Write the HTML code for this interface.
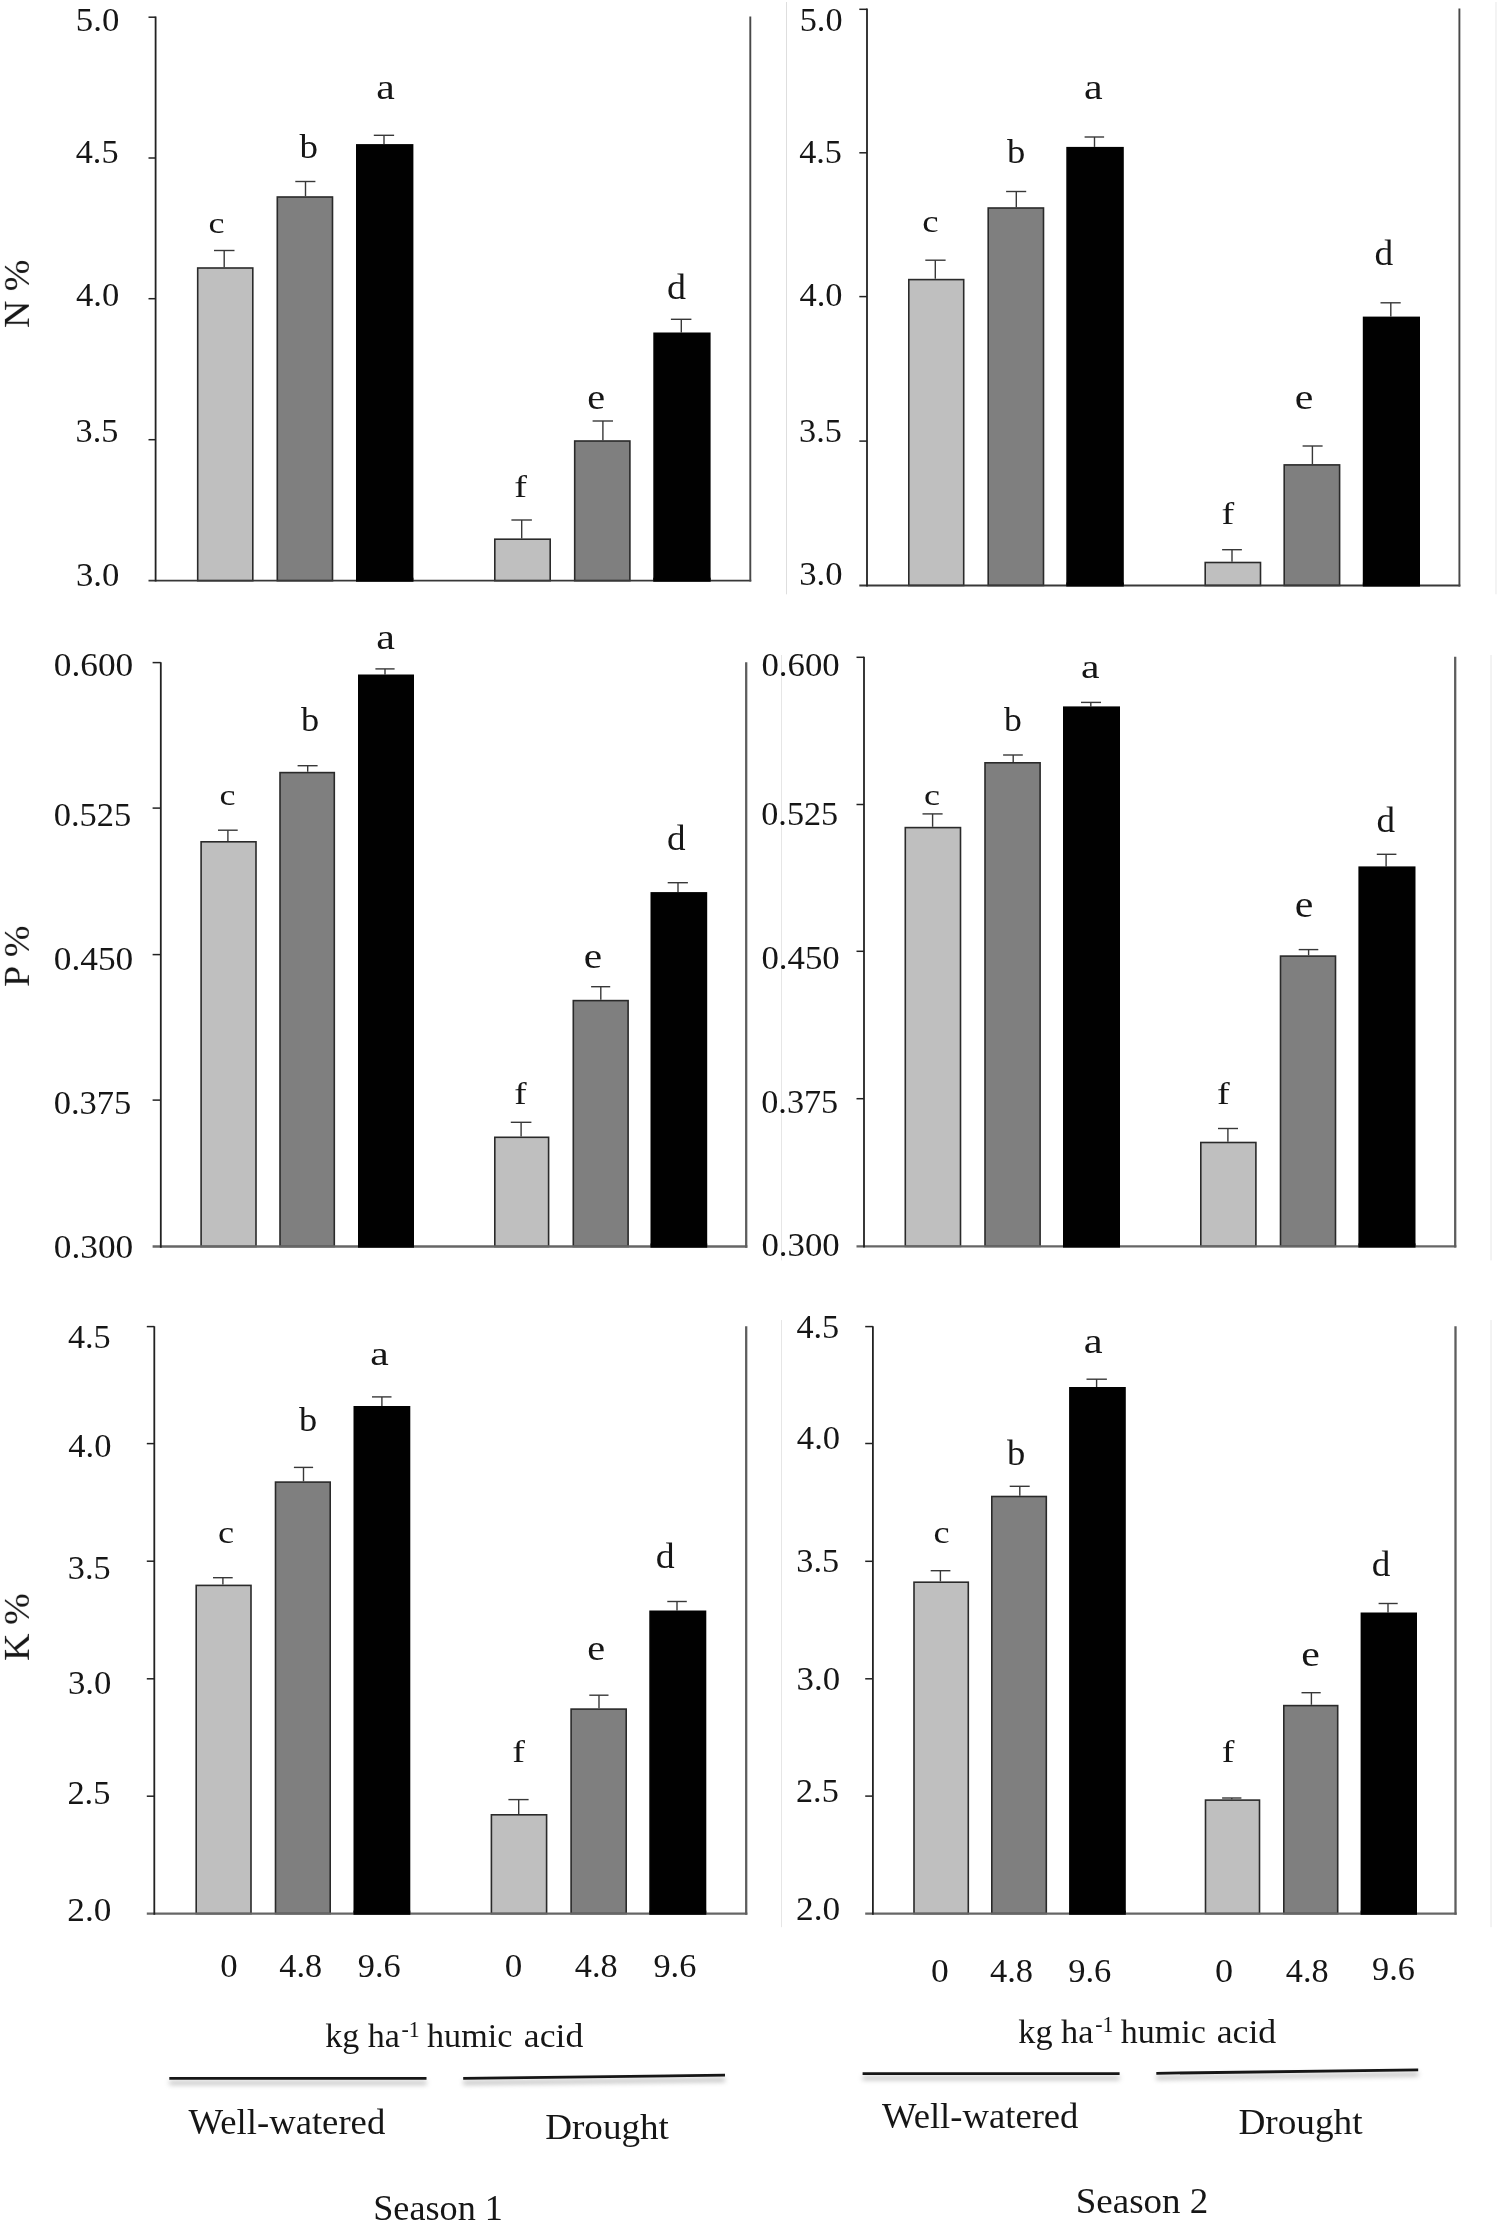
<!DOCTYPE html>
<html lang="en"><head><meta charset="utf-8"><title>Figure</title>
<style>html,body{margin:0;padding:0;background:#fff;overflow:hidden}svg{display:block}</style></head>
<body>
<svg width="1499" height="2224" viewBox="0 0 1499 2224" font-family='"Liberation Serif", "DejaVu Serif", serif' fill="#161616">
<defs><filter id="sh" filterUnits="userSpaceOnUse" x="0" y="2040" width="1499" height="80"><feGaussianBlur stdDeviation="2.6"/></filter></defs>
<rect width="1499" height="2224" fill="#fff"/>
<g opacity="0.999">
<line x1="786.50" y1="2.00" x2="786.50" y2="594.30" stroke="#dedede" stroke-width="1" />
<line x1="1496.00" y1="2.00" x2="1496.00" y2="594.30" stroke="#ececec" stroke-width="1.2" />
<line x1="781.50" y1="655.00" x2="781.50" y2="1260.40" stroke="#e6e6e6" stroke-width="1" />
<line x1="1491.00" y1="655.00" x2="1491.00" y2="1260.40" stroke="#e6e6e6" stroke-width="1" />
<line x1="781.50" y1="1320.00" x2="781.50" y2="1927.20" stroke="#e6e6e6" stroke-width="1" />
<line x1="1491.00" y1="1320.00" x2="1491.00" y2="1927.20" stroke="#e6e6e6" stroke-width="1" />
<line x1="224.20" y1="250.50" x2="224.20" y2="267.20" stroke="#383838" stroke-width="1.4" />
<line x1="214.00" y1="250.50" x2="234.50" y2="250.50" stroke="#383838" stroke-width="1.4" />
<rect x="197.70" y="268.00" width="55.10" height="312.70" fill="#bfbfbf" stroke="#2a2a2a" stroke-width="1.6"/>
<line x1="305.50" y1="181.50" x2="305.50" y2="196.20" stroke="#383838" stroke-width="1.4" />
<line x1="295.30" y1="181.50" x2="315.40" y2="181.50" stroke="#383838" stroke-width="1.4" />
<rect x="277.30" y="197.00" width="55.20" height="383.70" fill="#7f7f7f" stroke="#2a2a2a" stroke-width="1.6"/>
<line x1="384.00" y1="135.30" x2="384.00" y2="144.10" stroke="#383838" stroke-width="1.4" />
<line x1="373.80" y1="135.30" x2="394.10" y2="135.30" stroke="#383838" stroke-width="1.4" />
<rect x="356.80" y="144.90" width="55.80" height="435.80" fill="#000000" stroke="#000000" stroke-width="1.6"/>
<line x1="521.70" y1="520.00" x2="521.70" y2="538.40" stroke="#383838" stroke-width="1.4" />
<line x1="511.40" y1="520.00" x2="531.90" y2="520.00" stroke="#383838" stroke-width="1.4" />
<rect x="494.80" y="539.20" width="55.40" height="41.50" fill="#bfbfbf" stroke="#2a2a2a" stroke-width="1.6"/>
<line x1="602.90" y1="421.00" x2="602.90" y2="440.20" stroke="#383838" stroke-width="1.4" />
<line x1="592.60" y1="421.00" x2="613.00" y2="421.00" stroke="#383838" stroke-width="1.4" />
<rect x="574.70" y="441.00" width="55.20" height="139.70" fill="#7f7f7f" stroke="#2a2a2a" stroke-width="1.6"/>
<line x1="681.30" y1="319.30" x2="681.30" y2="332.50" stroke="#383838" stroke-width="1.4" />
<line x1="670.90" y1="319.30" x2="691.40" y2="319.30" stroke="#383838" stroke-width="1.4" />
<rect x="654.10" y="333.30" width="55.70" height="247.40" fill="#000000" stroke="#000000" stroke-width="1.6"/>
<line x1="148.50" y1="580.70" x2="751.25" y2="580.70" stroke="#383838" stroke-width="1.8" />
<line x1="750.30" y1="16.50" x2="750.30" y2="581.60" stroke="#484848" stroke-width="1.9" />
<line x1="155.60" y1="16.50" x2="155.60" y2="581.60" stroke="#222222" stroke-width="1.8" />
<line x1="148.50" y1="17.20" x2="155.60" y2="17.20" stroke="#222222" stroke-width="1.5" />
<line x1="148.50" y1="158.00" x2="155.60" y2="158.00" stroke="#222222" stroke-width="1.5" />
<line x1="148.50" y1="298.70" x2="155.60" y2="298.70" stroke="#222222" stroke-width="1.5" />
<line x1="148.50" y1="439.70" x2="155.60" y2="439.70" stroke="#222222" stroke-width="1.5" />
<rect x="356.00" y="577.70" width="57.40" height="3.90" fill="#000"/>
<rect x="653.30" y="577.70" width="57.30" height="3.90" fill="#000"/>
<line x1="935.30" y1="260.20" x2="935.30" y2="278.80" stroke="#383838" stroke-width="1.4" />
<line x1="925.30" y1="260.20" x2="945.60" y2="260.20" stroke="#383838" stroke-width="1.4" />
<rect x="908.80" y="279.60" width="54.90" height="305.90" fill="#bfbfbf" stroke="#2a2a2a" stroke-width="1.6"/>
<line x1="1016.30" y1="191.50" x2="1016.30" y2="207.20" stroke="#383838" stroke-width="1.4" />
<line x1="1006.10" y1="191.50" x2="1026.20" y2="191.50" stroke="#383838" stroke-width="1.4" />
<rect x="988.20" y="208.00" width="55.30" height="377.50" fill="#7f7f7f" stroke="#2a2a2a" stroke-width="1.6"/>
<line x1="1094.50" y1="137.00" x2="1094.50" y2="146.90" stroke="#383838" stroke-width="1.4" />
<line x1="1084.60" y1="137.00" x2="1104.10" y2="137.00" stroke="#383838" stroke-width="1.4" />
<rect x="1067.10" y="147.70" width="55.90" height="437.80" fill="#000000" stroke="#000000" stroke-width="1.6"/>
<line x1="1232.00" y1="549.70" x2="1232.00" y2="561.70" stroke="#383838" stroke-width="1.4" />
<line x1="1222.10" y1="549.70" x2="1241.90" y2="549.70" stroke="#383838" stroke-width="1.4" />
<rect x="1205.20" y="562.50" width="55.30" height="23.00" fill="#bfbfbf" stroke="#2a2a2a" stroke-width="1.6"/>
<line x1="1312.40" y1="446.00" x2="1312.40" y2="464.10" stroke="#383838" stroke-width="1.4" />
<line x1="1302.60" y1="446.00" x2="1322.60" y2="446.00" stroke="#383838" stroke-width="1.4" />
<rect x="1284.20" y="464.90" width="55.40" height="120.60" fill="#7f7f7f" stroke="#2a2a2a" stroke-width="1.6"/>
<line x1="1390.80" y1="302.80" x2="1390.80" y2="316.60" stroke="#383838" stroke-width="1.4" />
<line x1="1380.50" y1="302.80" x2="1400.70" y2="302.80" stroke="#383838" stroke-width="1.4" />
<rect x="1363.60" y="317.40" width="55.60" height="268.10" fill="#000000" stroke="#000000" stroke-width="1.6"/>
<line x1="859.30" y1="585.50" x2="1460.35" y2="585.50" stroke="#383838" stroke-width="1.8" />
<line x1="1459.40" y1="8.60" x2="1459.40" y2="586.40" stroke="#484848" stroke-width="1.9" />
<line x1="867.00" y1="8.60" x2="867.00" y2="586.40" stroke="#222222" stroke-width="1.8" />
<line x1="859.30" y1="9.30" x2="867.00" y2="9.30" stroke="#222222" stroke-width="1.5" />
<line x1="859.30" y1="152.80" x2="867.00" y2="152.80" stroke="#222222" stroke-width="1.5" />
<line x1="859.30" y1="296.60" x2="867.00" y2="296.60" stroke="#222222" stroke-width="1.5" />
<line x1="859.30" y1="441.10" x2="867.00" y2="441.10" stroke="#222222" stroke-width="1.5" />
<rect x="1066.30" y="582.50" width="57.50" height="3.90" fill="#000"/>
<rect x="1362.80" y="582.50" width="57.20" height="3.90" fill="#000"/>
<line x1="227.90" y1="830.20" x2="227.90" y2="841.00" stroke="#383838" stroke-width="1.4" />
<line x1="218.00" y1="830.20" x2="237.70" y2="830.20" stroke="#383838" stroke-width="1.4" />
<rect x="201.10" y="841.80" width="54.90" height="404.70" fill="#bfbfbf" stroke="#2a2a2a" stroke-width="1.6"/>
<line x1="307.70" y1="765.70" x2="307.70" y2="771.80" stroke="#383838" stroke-width="1.4" />
<line x1="297.60" y1="765.70" x2="317.60" y2="765.70" stroke="#383838" stroke-width="1.4" />
<rect x="280.00" y="772.60" width="54.30" height="473.90" fill="#7f7f7f" stroke="#2a2a2a" stroke-width="1.6"/>
<line x1="385.00" y1="668.90" x2="385.00" y2="674.50" stroke="#383838" stroke-width="1.4" />
<line x1="375.40" y1="668.90" x2="394.60" y2="668.90" stroke="#383838" stroke-width="1.4" />
<rect x="358.80" y="675.30" width="54.40" height="571.20" fill="#000000" stroke="#000000" stroke-width="1.6"/>
<line x1="521.10" y1="1122.30" x2="521.10" y2="1136.50" stroke="#383838" stroke-width="1.4" />
<line x1="510.80" y1="1122.30" x2="531.40" y2="1122.30" stroke="#383838" stroke-width="1.4" />
<rect x="494.80" y="1137.30" width="53.80" height="109.20" fill="#bfbfbf" stroke="#2a2a2a" stroke-width="1.6"/>
<line x1="600.80" y1="986.70" x2="600.80" y2="999.80" stroke="#383838" stroke-width="1.4" />
<line x1="591.10" y1="986.70" x2="610.20" y2="986.70" stroke="#383838" stroke-width="1.4" />
<rect x="573.30" y="1000.60" width="54.80" height="245.90" fill="#7f7f7f" stroke="#2a2a2a" stroke-width="1.6"/>
<line x1="678.00" y1="882.70" x2="678.00" y2="892.10" stroke="#383838" stroke-width="1.4" />
<line x1="667.70" y1="882.70" x2="687.90" y2="882.70" stroke="#383838" stroke-width="1.4" />
<rect x="651.30" y="892.90" width="55.10" height="353.60" fill="#000000" stroke="#000000" stroke-width="1.6"/>
<line x1="152.60" y1="1246.50" x2="747.35" y2="1246.50" stroke="#666666" stroke-width="2.3" />
<line x1="746.20" y1="662.30" x2="746.20" y2="1247.65" stroke="#5e5e5e" stroke-width="2.3" />
<line x1="160.80" y1="662.30" x2="160.80" y2="1247.65" stroke="#222222" stroke-width="1.8" />
<line x1="152.60" y1="662.60" x2="160.80" y2="662.60" stroke="#222222" stroke-width="1.5" />
<line x1="152.60" y1="808.10" x2="160.80" y2="808.10" stroke="#222222" stroke-width="1.5" />
<line x1="152.60" y1="954.60" x2="160.80" y2="954.60" stroke="#222222" stroke-width="1.5" />
<line x1="152.60" y1="1100.10" x2="160.80" y2="1100.10" stroke="#222222" stroke-width="1.5" />
<rect x="358.00" y="1243.50" width="56.00" height="4.15" fill="#000"/>
<rect x="650.50" y="1243.50" width="56.70" height="4.15" fill="#000"/>
<line x1="932.60" y1="813.90" x2="932.60" y2="826.80" stroke="#383838" stroke-width="1.4" />
<line x1="922.50" y1="813.90" x2="942.60" y2="813.90" stroke="#383838" stroke-width="1.4" />
<rect x="905.30" y="827.60" width="55.20" height="418.80" fill="#bfbfbf" stroke="#2a2a2a" stroke-width="1.6"/>
<line x1="1013.20" y1="755.00" x2="1013.20" y2="762.00" stroke="#383838" stroke-width="1.4" />
<line x1="1003.10" y1="755.00" x2="1022.80" y2="755.00" stroke="#383838" stroke-width="1.4" />
<rect x="985.00" y="762.80" width="55.10" height="483.60" fill="#7f7f7f" stroke="#2a2a2a" stroke-width="1.6"/>
<line x1="1090.80" y1="702.40" x2="1090.80" y2="706.40" stroke="#383838" stroke-width="1.4" />
<line x1="1081.00" y1="702.40" x2="1101.00" y2="702.40" stroke="#383838" stroke-width="1.4" />
<rect x="1063.80" y="707.20" width="55.40" height="539.20" fill="#000000" stroke="#000000" stroke-width="1.6"/>
<line x1="1227.90" y1="1128.50" x2="1227.90" y2="1141.70" stroke="#383838" stroke-width="1.4" />
<line x1="1218.00" y1="1128.50" x2="1238.00" y2="1128.50" stroke="#383838" stroke-width="1.4" />
<rect x="1200.80" y="1142.50" width="55.10" height="103.90" fill="#bfbfbf" stroke="#2a2a2a" stroke-width="1.6"/>
<line x1="1308.60" y1="949.60" x2="1308.60" y2="955.30" stroke="#383838" stroke-width="1.4" />
<line x1="1298.70" y1="949.60" x2="1318.30" y2="949.60" stroke="#383838" stroke-width="1.4" />
<rect x="1280.50" y="956.10" width="55.00" height="290.30" fill="#7f7f7f" stroke="#2a2a2a" stroke-width="1.6"/>
<line x1="1386.10" y1="854.30" x2="1386.10" y2="866.40" stroke="#383838" stroke-width="1.4" />
<line x1="1376.80" y1="854.30" x2="1396.40" y2="854.30" stroke="#383838" stroke-width="1.4" />
<rect x="1359.20" y="867.20" width="55.50" height="379.20" fill="#000000" stroke="#000000" stroke-width="1.6"/>
<line x1="856.50" y1="1246.40" x2="1456.35" y2="1246.40" stroke="#666666" stroke-width="2.3" />
<line x1="1455.20" y1="656.80" x2="1455.20" y2="1247.55" stroke="#5e5e5e" stroke-width="2.3" />
<line x1="864.00" y1="656.80" x2="864.00" y2="1247.55" stroke="#222222" stroke-width="1.8" />
<line x1="856.50" y1="657.30" x2="864.00" y2="657.30" stroke="#222222" stroke-width="1.5" />
<line x1="856.50" y1="804.50" x2="864.00" y2="804.50" stroke="#222222" stroke-width="1.5" />
<line x1="856.50" y1="951.30" x2="864.00" y2="951.30" stroke="#222222" stroke-width="1.5" />
<line x1="856.50" y1="1098.70" x2="864.00" y2="1098.70" stroke="#222222" stroke-width="1.5" />
<rect x="1063.00" y="1243.40" width="57.00" height="4.15" fill="#000"/>
<rect x="1358.40" y="1243.40" width="57.10" height="4.15" fill="#000"/>
<line x1="222.90" y1="1577.70" x2="222.90" y2="1584.60" stroke="#383838" stroke-width="1.4" />
<line x1="213.00" y1="1577.70" x2="232.70" y2="1577.70" stroke="#383838" stroke-width="1.4" />
<rect x="196.20" y="1585.40" width="54.80" height="328.20" fill="#bfbfbf" stroke="#2a2a2a" stroke-width="1.6"/>
<line x1="303.50" y1="1467.40" x2="303.50" y2="1481.30" stroke="#383838" stroke-width="1.4" />
<line x1="293.90" y1="1467.40" x2="313.10" y2="1467.40" stroke="#383838" stroke-width="1.4" />
<rect x="275.50" y="1482.10" width="54.70" height="431.50" fill="#7f7f7f" stroke="#2a2a2a" stroke-width="1.6"/>
<line x1="381.90" y1="1396.90" x2="381.90" y2="1406.00" stroke="#383838" stroke-width="1.4" />
<line x1="372.00" y1="1396.90" x2="391.50" y2="1396.90" stroke="#383838" stroke-width="1.4" />
<rect x="354.30" y="1406.80" width="55.20" height="506.80" fill="#000000" stroke="#000000" stroke-width="1.6"/>
<line x1="518.70" y1="1799.60" x2="518.70" y2="1814.00" stroke="#383838" stroke-width="1.4" />
<line x1="508.40" y1="1799.60" x2="528.60" y2="1799.60" stroke="#383838" stroke-width="1.4" />
<rect x="491.40" y="1814.80" width="55.20" height="98.80" fill="#bfbfbf" stroke="#2a2a2a" stroke-width="1.6"/>
<line x1="599.00" y1="1695.20" x2="599.00" y2="1708.30" stroke="#383838" stroke-width="1.4" />
<line x1="589.30" y1="1695.20" x2="608.50" y2="1695.20" stroke="#383838" stroke-width="1.4" />
<rect x="571.10" y="1709.10" width="55.10" height="204.50" fill="#7f7f7f" stroke="#2a2a2a" stroke-width="1.6"/>
<line x1="677.00" y1="1601.50" x2="677.00" y2="1610.50" stroke="#383838" stroke-width="1.4" />
<line x1="667.30" y1="1601.50" x2="686.80" y2="1601.50" stroke="#383838" stroke-width="1.4" />
<rect x="650.10" y="1611.30" width="55.40" height="302.30" fill="#000000" stroke="#000000" stroke-width="1.6"/>
<line x1="146.80" y1="1913.60" x2="747.35" y2="1913.60" stroke="#666666" stroke-width="2.3" />
<line x1="746.20" y1="1326.30" x2="746.20" y2="1914.75" stroke="#5e5e5e" stroke-width="2.3" />
<line x1="154.30" y1="1326.30" x2="154.30" y2="1914.75" stroke="#222222" stroke-width="1.8" />
<line x1="146.80" y1="1326.60" x2="154.30" y2="1326.60" stroke="#222222" stroke-width="1.5" />
<line x1="146.80" y1="1443.60" x2="154.30" y2="1443.60" stroke="#222222" stroke-width="1.5" />
<line x1="146.80" y1="1561.20" x2="154.30" y2="1561.20" stroke="#222222" stroke-width="1.5" />
<line x1="146.80" y1="1678.80" x2="154.30" y2="1678.80" stroke="#222222" stroke-width="1.5" />
<line x1="146.80" y1="1796.20" x2="154.30" y2="1796.20" stroke="#222222" stroke-width="1.5" />
<rect x="353.50" y="1910.60" width="56.80" height="4.15" fill="#000"/>
<rect x="649.30" y="1910.60" width="57.00" height="4.15" fill="#000"/>
<line x1="940.40" y1="1570.70" x2="940.40" y2="1581.40" stroke="#383838" stroke-width="1.4" />
<line x1="930.70" y1="1570.70" x2="950.40" y2="1570.70" stroke="#383838" stroke-width="1.4" />
<rect x="914.00" y="1582.20" width="54.30" height="331.40" fill="#bfbfbf" stroke="#2a2a2a" stroke-width="1.6"/>
<line x1="1019.80" y1="1486.30" x2="1019.80" y2="1495.70" stroke="#383838" stroke-width="1.4" />
<line x1="1009.70" y1="1486.30" x2="1029.70" y2="1486.30" stroke="#383838" stroke-width="1.4" />
<rect x="991.80" y="1496.50" width="54.50" height="417.10" fill="#7f7f7f" stroke="#2a2a2a" stroke-width="1.6"/>
<line x1="1096.60" y1="1379.20" x2="1096.60" y2="1387.00" stroke="#383838" stroke-width="1.4" />
<line x1="1086.50" y1="1379.20" x2="1106.90" y2="1379.20" stroke="#383838" stroke-width="1.4" />
<rect x="1069.90" y="1387.80" width="55.10" height="525.80" fill="#000000" stroke="#000000" stroke-width="1.6"/>
<line x1="1231.80" y1="1798.00" x2="1231.80" y2="1799.30" stroke="#383838" stroke-width="1.4" />
<line x1="1222.10" y1="1798.00" x2="1241.40" y2="1798.00" stroke="#383838" stroke-width="1.4" />
<rect x="1205.50" y="1800.10" width="54.00" height="113.50" fill="#bfbfbf" stroke="#2a2a2a" stroke-width="1.6"/>
<line x1="1311.40" y1="1692.70" x2="1311.40" y2="1704.80" stroke="#383838" stroke-width="1.4" />
<line x1="1301.50" y1="1692.70" x2="1320.70" y2="1692.70" stroke="#383838" stroke-width="1.4" />
<rect x="1283.80" y="1705.60" width="53.90" height="208.00" fill="#7f7f7f" stroke="#2a2a2a" stroke-width="1.6"/>
<line x1="1388.00" y1="1603.50" x2="1388.00" y2="1612.50" stroke="#383838" stroke-width="1.4" />
<line x1="1378.60" y1="1603.50" x2="1397.70" y2="1603.50" stroke="#383838" stroke-width="1.4" />
<rect x="1361.40" y="1613.30" width="54.80" height="300.30" fill="#000000" stroke="#000000" stroke-width="1.6"/>
<line x1="865.20" y1="1913.60" x2="1456.65" y2="1913.60" stroke="#666666" stroke-width="2.3" />
<line x1="1455.50" y1="1326.30" x2="1455.50" y2="1914.75" stroke="#5e5e5e" stroke-width="2.3" />
<line x1="872.90" y1="1326.30" x2="872.90" y2="1914.75" stroke="#222222" stroke-width="1.8" />
<line x1="865.20" y1="1326.60" x2="872.90" y2="1326.60" stroke="#222222" stroke-width="1.5" />
<line x1="865.20" y1="1443.50" x2="872.90" y2="1443.50" stroke="#222222" stroke-width="1.5" />
<line x1="865.20" y1="1561.30" x2="872.90" y2="1561.30" stroke="#222222" stroke-width="1.5" />
<line x1="865.20" y1="1678.80" x2="872.90" y2="1678.80" stroke="#222222" stroke-width="1.5" />
<line x1="865.20" y1="1796.10" x2="872.90" y2="1796.10" stroke="#222222" stroke-width="1.5" />
<rect x="1069.10" y="1910.60" width="56.70" height="4.15" fill="#000"/>
<rect x="1360.60" y="1910.60" width="56.40" height="4.15" fill="#000"/>
<text transform="translate(75.85,30.60) scale(1.0177,1)" font-size="34.20">5.0</text>
<text transform="translate(75.77,163.00) scale(1.0000,1)" font-size="34.20">4.5</text>
<text transform="translate(76.06,306.10) scale(1.0127,1)" font-size="34.20">4.0</text>
<text transform="translate(75.55,442.30) scale(1.0000,1)" font-size="34.20">3.5</text>
<text transform="translate(75.90,585.50) scale(1.0165,1)" font-size="34.20">3.0</text>
<text transform="translate(799.68,30.60) scale(1.0025,1)" font-size="34.20">5.0</text>
<text transform="translate(799.17,163.00) scale(1.0000,1)" font-size="34.20">4.5</text>
<text transform="translate(799.46,306.00) scale(1.0078,1)" font-size="34.20">4.0</text>
<text transform="translate(799.05,442.20) scale(1.0000,1)" font-size="34.20">3.5</text>
<text transform="translate(799.20,585.40) scale(1.0140,1)" font-size="34.20">3.0</text>
<text transform="translate(53.72,676.40) scale(1.0338,1)" font-size="34.20">0.600</text>
<text transform="translate(53.76,825.50) scale(1.0081,1)" font-size="34.20">0.525</text>
<text transform="translate(53.72,969.60) scale(1.0338,1)" font-size="34.20">0.450</text>
<text transform="translate(53.76,1113.60) scale(1.0081,1)" font-size="34.20">0.375</text>
<text transform="translate(53.72,1257.80) scale(1.0338,1)" font-size="34.20">0.300</text>
<text transform="translate(761.44,676.40) scale(1.0177,1)" font-size="34.20">0.600</text>
<text transform="translate(761.27,825.00) scale(1.0000,1)" font-size="34.20">0.525</text>
<text transform="translate(761.44,968.70) scale(1.0177,1)" font-size="34.20">0.450</text>
<text transform="translate(761.27,1112.50) scale(1.0000,1)" font-size="34.20">0.375</text>
<text transform="translate(761.44,1256.30) scale(1.0177,1)" font-size="34.20">0.300</text>
<text transform="translate(67.97,1348.30) scale(1.0000,1)" font-size="34.20">4.5</text>
<text transform="translate(68.26,1457.30) scale(1.0102,1)" font-size="34.20">4.0</text>
<text transform="translate(67.85,1578.80) scale(1.0000,1)" font-size="34.20">3.5</text>
<text transform="translate(68.00,1694.10) scale(1.0165,1)" font-size="34.20">3.0</text>
<text transform="translate(67.40,1804.30) scale(1.0065,1)" font-size="34.20">2.5</text>
<text transform="translate(67.36,1921.10) scale(1.0318,1)" font-size="34.20">2.0</text>
<text transform="translate(796.42,1337.80) scale(1.0000,1)" font-size="34.20">4.5</text>
<text transform="translate(796.86,1448.60) scale(1.0127,1)" font-size="34.20">4.0</text>
<text transform="translate(796.30,1572.40) scale(1.0000,1)" font-size="34.20">3.5</text>
<text transform="translate(796.59,1689.50) scale(1.0190,1)" font-size="34.20">3.0</text>
<text transform="translate(795.99,1801.70) scale(1.0000,1)" font-size="34.20">2.5</text>
<text transform="translate(795.96,1920.40) scale(1.0343,1)" font-size="34.20">2.0</text>
<text transform="translate(208.45,233.40) scale(1.2000,1)" font-size="30.00">c</text>
<text transform="translate(299.40,157.70) scale(1.0842,1)" font-size="34.10">b</text>
<text transform="translate(376.14,98.90) scale(1.1899,1)" font-size="35.11">a</text>
<text transform="translate(514.19,497.20) scale(1.2000,1)" font-size="31.77">f</text>
<text transform="translate(587.29,408.90) scale(1.1004,1)" font-size="36.60">e</text>
<text transform="translate(666.97,298.80) scale(1.0916,1)" font-size="34.82">d</text>
<text transform="translate(922.28,232.10) scale(1.2000,1)" font-size="30.64">c</text>
<text transform="translate(1006.90,162.50) scale(1.0715,1)" font-size="34.10">b</text>
<text transform="translate(1083.93,99.20) scale(1.1971,1)" font-size="35.11">a</text>
<text transform="translate(1221.54,524.40) scale(1.2000,1)" font-size="31.77">f</text>
<text transform="translate(1294.82,409.00) scale(1.1447,1)" font-size="36.60">e</text>
<text transform="translate(1374.49,265.20) scale(1.0682,1)" font-size="34.96">d</text>
<text transform="translate(219.50,805.00) scale(1.2000,1)" font-size="30.00">c</text>
<text transform="translate(301.00,731.20) scale(1.0519,1)" font-size="34.53">b</text>
<text transform="translate(376.26,648.90) scale(1.2000,1)" font-size="35.11">a</text>
<text transform="translate(514.22,1103.60) scale(1.2000,1)" font-size="30.92">f</text>
<text transform="translate(583.85,968.20) scale(1.1299,1)" font-size="36.60">e</text>
<text transform="translate(667.00,849.60) scale(1.0619,1)" font-size="34.96">d</text>
<text transform="translate(924.10,804.50) scale(1.2000,1)" font-size="30.00">c</text>
<text transform="translate(1003.90,731.30) scale(1.0462,1)" font-size="34.10">b</text>
<text transform="translate(1081.02,677.50) scale(1.2000,1)" font-size="34.68">a</text>
<text transform="translate(1216.94,1103.80) scale(1.2000,1)" font-size="31.77">f</text>
<text transform="translate(1294.82,917.00) scale(1.1124,1)" font-size="37.66">e</text>
<text transform="translate(1376.40,832.00) scale(1.0619,1)" font-size="34.96">d</text>
<text transform="translate(218.04,1542.90) scale(1.1837,1)" font-size="30.64">c</text>
<text transform="translate(299.00,1430.90) scale(1.0475,1)" font-size="34.68">b</text>
<text transform="translate(370.22,1365.20) scale(1.2000,1)" font-size="34.68">a</text>
<text transform="translate(512.14,1761.90) scale(1.2000,1)" font-size="31.77">f</text>
<text transform="translate(587.29,1659.50) scale(1.1004,1)" font-size="36.60">e</text>
<text transform="translate(655.78,1568.20) scale(1.0808,1)" font-size="34.96">d</text>
<text transform="translate(933.54,1543.00) scale(1.1837,1)" font-size="30.64">c</text>
<text transform="translate(1006.90,1464.60) scale(1.0494,1)" font-size="34.82">b</text>
<text transform="translate(1083.71,1352.80) scale(1.1899,1)" font-size="35.74">a</text>
<text transform="translate(1221.74,1761.90) scale(1.2000,1)" font-size="31.77">f</text>
<text transform="translate(1301.32,1665.70) scale(1.1447,1)" font-size="36.60">e</text>
<text transform="translate(1371.70,1576.00) scale(1.0663,1)" font-size="34.82">d</text>
<text transform="translate(28.90,328.04) rotate(-90) scale(1.05,1)" font-size="36.20" word-spacing="-0.13">N %</text>
<text transform="translate(28.90,986.94) rotate(-90) scale(1.05,1)" font-size="36.20" word-spacing="0.54">P %</text>
<text transform="translate(28.90,1660.94) rotate(-90) scale(1.05,1)" font-size="36.20" word-spacing="-0.89">K %</text>
<text transform="translate(220.14,1976.90) scale(1.0182,1)" font-size="34.20">0</text>
<text transform="translate(279.37,1976.90) scale(1.0000,1)" font-size="34.20">4.8</text>
<text transform="translate(357.73,1976.90) scale(1.0046,1)" font-size="34.20">9.6</text>
<text transform="translate(504.64,1976.80) scale(1.0251,1)" font-size="34.20">0</text>
<text transform="translate(574.87,1976.80) scale(1.0000,1)" font-size="34.20">4.8</text>
<text transform="translate(653.43,1976.80) scale(1.0046,1)" font-size="34.20">9.6</text>
<text transform="translate(930.92,1982.00) scale(1.0389,1)" font-size="34.20">0</text>
<text transform="translate(989.96,1982.00) scale(1.0078,1)" font-size="34.20">4.8</text>
<text transform="translate(1068.13,1982.00) scale(1.0120,1)" font-size="34.20">9.6</text>
<text transform="translate(1214.99,1982.20) scale(1.0595,1)" font-size="34.20">0</text>
<text transform="translate(1285.87,1982.10) scale(1.0000,1)" font-size="34.20">4.8</text>
<text transform="translate(1372.04,1980.40) scale(1.0022,1)" font-size="34.20">9.6</text>
<text transform="translate(325.22,2047.40) scale(0.9950,1)" font-size="34.20">kg ha</text>
<text transform="translate(401.55,2036.60) scale(0.9500,1)" font-size="23.00">-1</text>
<text transform="translate(427.06,2047.40) scale(0.9971,1)" font-size="34.20">humic</text>
<text transform="translate(523.85,2047.40) scale(1.0431,1)" font-size="34.20">acid</text>
<text transform="translate(1018.31,2042.90) scale(1.0017,1)" font-size="34.20">kg ha</text>
<text transform="translate(1095.15,2032.10) scale(0.9500,1)" font-size="23.00">-1</text>
<text transform="translate(1120.86,2042.90) scale(0.9947,1)" font-size="34.20">humic</text>
<text transform="translate(1216.65,2042.90) scale(1.0467,1)" font-size="34.20">acid</text>
<line x1="169.3" y1="2082.9" x2="426.5" y2="2082.9" stroke="#b4b4b4" stroke-width="3.4" filter="url(#sh)"/>
<line x1="169.30" y1="2078.40" x2="426.50" y2="2078.40" stroke="#161616" stroke-width="2.8" />
<line x1="463.2" y1="2082.8" x2="725.0" y2="2079.7" stroke="#b4b4b4" stroke-width="3.4" filter="url(#sh)"/>
<line x1="463.20" y1="2078.30" x2="725.00" y2="2075.20" stroke="#161616" stroke-width="2.8" />
<line x1="862.6" y1="2078.1" x2="1119.6" y2="2078.1" stroke="#b4b4b4" stroke-width="3.4" filter="url(#sh)"/>
<line x1="862.60" y1="2073.60" x2="1119.60" y2="2073.60" stroke="#161616" stroke-width="2.8" />
<line x1="1156.3" y1="2077.8" x2="1418.2" y2="2074.3" stroke="#b4b4b4" stroke-width="3.4" filter="url(#sh)"/>
<line x1="1156.30" y1="2073.30" x2="1418.20" y2="2069.80" stroke="#161616" stroke-width="2.8" />
<text transform="translate(188.60,2133.50) scale(1.0483,1)" font-size="35.00">Well-watered</text>
<text transform="translate(545.19,2139.10) scale(1.0605,1)" font-size="35.00">Drought</text>
<text transform="translate(373.26,2219.90) scale(1.0337,1)" font-size="35.00">Season 1</text>
<text transform="translate(882.00,2127.60) scale(1.0472,1)" font-size="35.00">Well-watered</text>
<text transform="translate(1238.38,2133.70) scale(1.0649,1)" font-size="35.00">Drought</text>
<text transform="translate(1075.80,2212.90) scale(1.0570,1)" font-size="35.00">Season 2</text>
</g>
</svg>
</body></html>
